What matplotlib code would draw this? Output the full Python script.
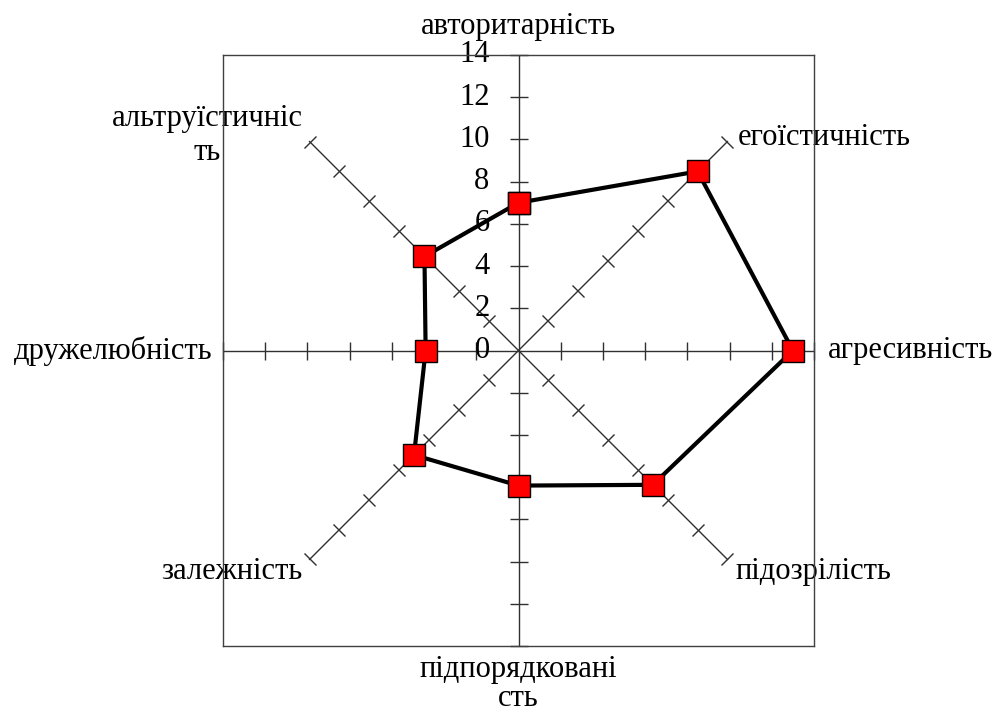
import numpy as np
import matplotlib.pyplot as plt
from matplotlib.markers import MarkerStyle
from matplotlib.transforms import Affine2D

plt.rcParams['font.family'] = ['Liberation Serif', 'DejaVu Serif']

# data (clockwise from top)
labels = ['авторитарність', 'егоїстичність', 'агресивність', 'підозрілість',
          'підпорядковані\nсть', 'залежність', 'дружелюбність', 'альтруїстичніс\nть']
values = [7, 12, 13, 9, 6.4, 7, 4.4, 6.3]
rticks = [0, 2, 4, 6, 8, 10, 12, 14]
rmax = 14

# screen angles of the spokes
angles = np.deg2rad(90 - 45 * np.arange(len(labels)))

fig = plt.figure(figsize=(9.95, 7.2), dpi=100)
ax = fig.add_axes([223 / 995, 74 / 720, 591 / 995, 591 / 720])
ax.set_xlim(-rmax, rmax)
ax.set_ylim(-rmax, rmax)
ax.set_xticks([])
ax.set_yticks([])
for s in ax.spines.values():
    s.set_color('#404040')
    s.set_linewidth(1)

axis_col = '#303030'
# spokes with crossing tick marks
for a in angles:
    ax.plot([0, rmax * np.cos(a)], [0, rmax * np.sin(a)], color=axis_col, lw=1, zorder=1)
    r = np.array(rticks[1:])
    m = MarkerStyle('|', transform=Affine2D().rotate_deg(np.rad2deg(a)))
    ax.plot(r * np.cos(a), r * np.sin(a), ls='none', marker=m, markersize=13,
            markeredgewidth=1, color=axis_col, clip_on=False, zorder=1)

# radial tick labels on the top spoke
for t in rticks:
    ax.text(-1.37, t, str(t), ha='right', va='center', fontsize=22, zorder=2)

# data polygon
xs = np.array(values) * np.cos(angles)
ys = np.array(values) * np.sin(angles)
xs = np.append(xs, xs[0])
ys = np.append(ys, ys[0])
ax.plot(xs, ys, color='black', lw=3, marker='s', markersize=16,
        markerfacecolor='#ff0000', markeredgecolor='black', markeredgewidth=1,
        clip_on=False, zorder=3)

# category labels
label_pos = [(0, 15.33, 'center'), (10.4, 10.1, 'left'), (14.66, 0, 'left'),
             (10.3, -10.45, 'left'), (0, -15.8, 'center'), (-13.6, -10.45, 'center'),
             (-14.52, 0, 'right'), (-14.76, 10.19, 'center')]
for i, (lab, (x, y, ha)) in enumerate(zip(labels, label_pos)):
    ax.text(x, y, lab, ha=ha, va='center', multialignment='center', fontsize=22,
            linespacing=1.0 if i == 4 else 1.2, clip_on=False, zorder=2)

fig.savefig('out.png', dpi=100)
